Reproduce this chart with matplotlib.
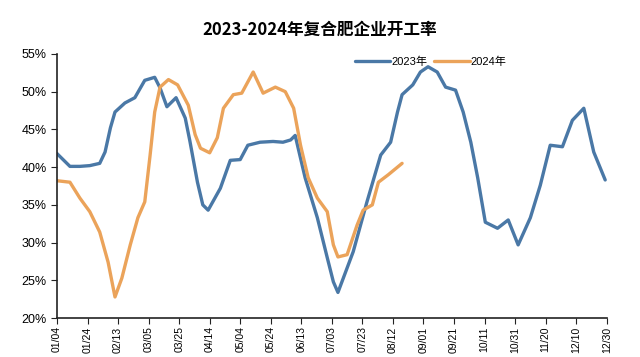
import pandas as pd
import matplotlib
matplotlib.use("Agg")
from matplotlib import pyplot as plt
from matplotlib.ticker import PercentFormatter

plt.rcParams['font.family'] = ['Liberation Sans', 'Noto Sans CJK SC', 'DejaVu Sans']

# days counted from 01/04, values in %
days_2023 = [0, 4, 8.5, 15, 21.5, 28, 31.5, 35, 38, 44.5, 51, 57.5, 64, 67.5, 72, 78, 84, 87,
             92, 95.5, 99, 107, 113.5, 120, 125, 133, 141.5, 148, 153, 156, 162.5, 170.5, 177,
             181, 184, 194, 203, 212, 218.5, 223, 226, 233, 238, 243, 249, 254.5, 261, 266,
             271, 275.5, 280.5, 288.5, 295.5, 302, 310, 316.5, 323, 331, 337.5, 345, 351.5, 359]
rate_2023 = [41.8, 41.0, 40.1, 40.1, 40.2, 40.5, 42.0, 45.2, 47.3, 48.5, 49.2, 51.5, 51.9, 50.5,
             48.0, 49.2, 46.5, 43.5, 38.0, 35.0, 34.3, 37.2, 40.9, 41.0, 42.9, 43.3, 43.4, 43.3,
             43.6, 44.2, 38.6, 33.3, 28.0, 24.8, 23.4, 28.8, 35.4, 41.6, 43.3, 47.3, 49.6, 50.9,
             52.6, 53.3, 52.6, 50.6, 50.2, 47.3, 43.3, 38.6, 32.7, 31.9, 33.0, 29.7, 33.3, 37.6,
             42.9, 42.7, 46.2, 47.8, 42.0, 38.3]

days_2024 = [0, 8.5, 15, 21.5, 28, 33.5, 38, 42.5, 48, 53, 57.5, 61, 64, 67.5, 73, 79, 86,
             90.5, 94, 100, 105, 109, 115.5, 121, 128.5, 135, 143, 149.5, 155, 159.5, 164.5,
             170.5, 177, 181, 184, 190, 196.5, 200.5, 206.5, 210.5, 217, 226]
rate_2024 = [38.2, 38.0, 35.9, 34.1, 31.4, 27.4, 22.8, 25.3, 29.7, 33.3, 35.4, 41.6, 47.3, 50.6,
             51.6, 50.9, 48.2, 44.3, 42.5, 41.9, 43.9, 47.8, 49.6, 49.8, 52.6, 49.8, 50.6, 50.0,
             47.8, 42.9, 38.6, 35.9, 34.1, 29.7, 28.1, 28.4, 32.3, 34.3, 35.0, 38.0, 39.0, 40.5]

tick_days = list(range(0, 361, 20))
tick_labels = [d.strftime('%m/%d') for d in pd.date_range('2023-01-04', periods=len(tick_days), freq='20D')]

fig = plt.figure(figsize=(6.4, 3.57), dpi=100)
ax = fig.add_axes([0.089, 0.109, 0.859, 0.740])

ax.plot(days_2023, rate_2023, color='#4a78a6', lw=2.4, label='2023年', solid_capstyle='round')
ax.plot(days_2024, rate_2024, color='#eba35a', lw=2.4, label='2024年', solid_capstyle='round')

ax.set_xlim(0, 360)
ax.set_ylim(20, 55)
ax.set_yticks(range(20, 56, 5))
ax.yaxis.set_major_formatter(PercentFormatter(decimals=0))
ax.set_xticks(tick_days)
ax.set_xticklabels(tick_labels, rotation=90)
ax.tick_params(axis='both', direction='out', length=4, color='#222222')
ax.tick_params(axis='y', labelsize=9)
ax.tick_params(axis='x', labelsize=7.5, pad=2)

for s in ['top', 'right']:
    ax.spines[s].set_visible(False)
for s in ['left', 'bottom']:
    ax.spines[s].set_color('#222222')
    ax.spines[s].set_linewidth(1.2)

ax.legend(loc='center', bbox_to_anchor=(0.68, 0.97), ncol=2, frameon=False,
          fontsize=8, handlelength=3.2, handletextpad=0.1, columnspacing=0.6)

fig.text(0.5, 0.918, '2023-2024年复合肥企业开工率', ha='center', va='center',
         fontsize=12, fontweight='bold', family=['Noto Sans CJK SC', 'DejaVu Sans'])

fig.savefig('out.png', dpi=100)
